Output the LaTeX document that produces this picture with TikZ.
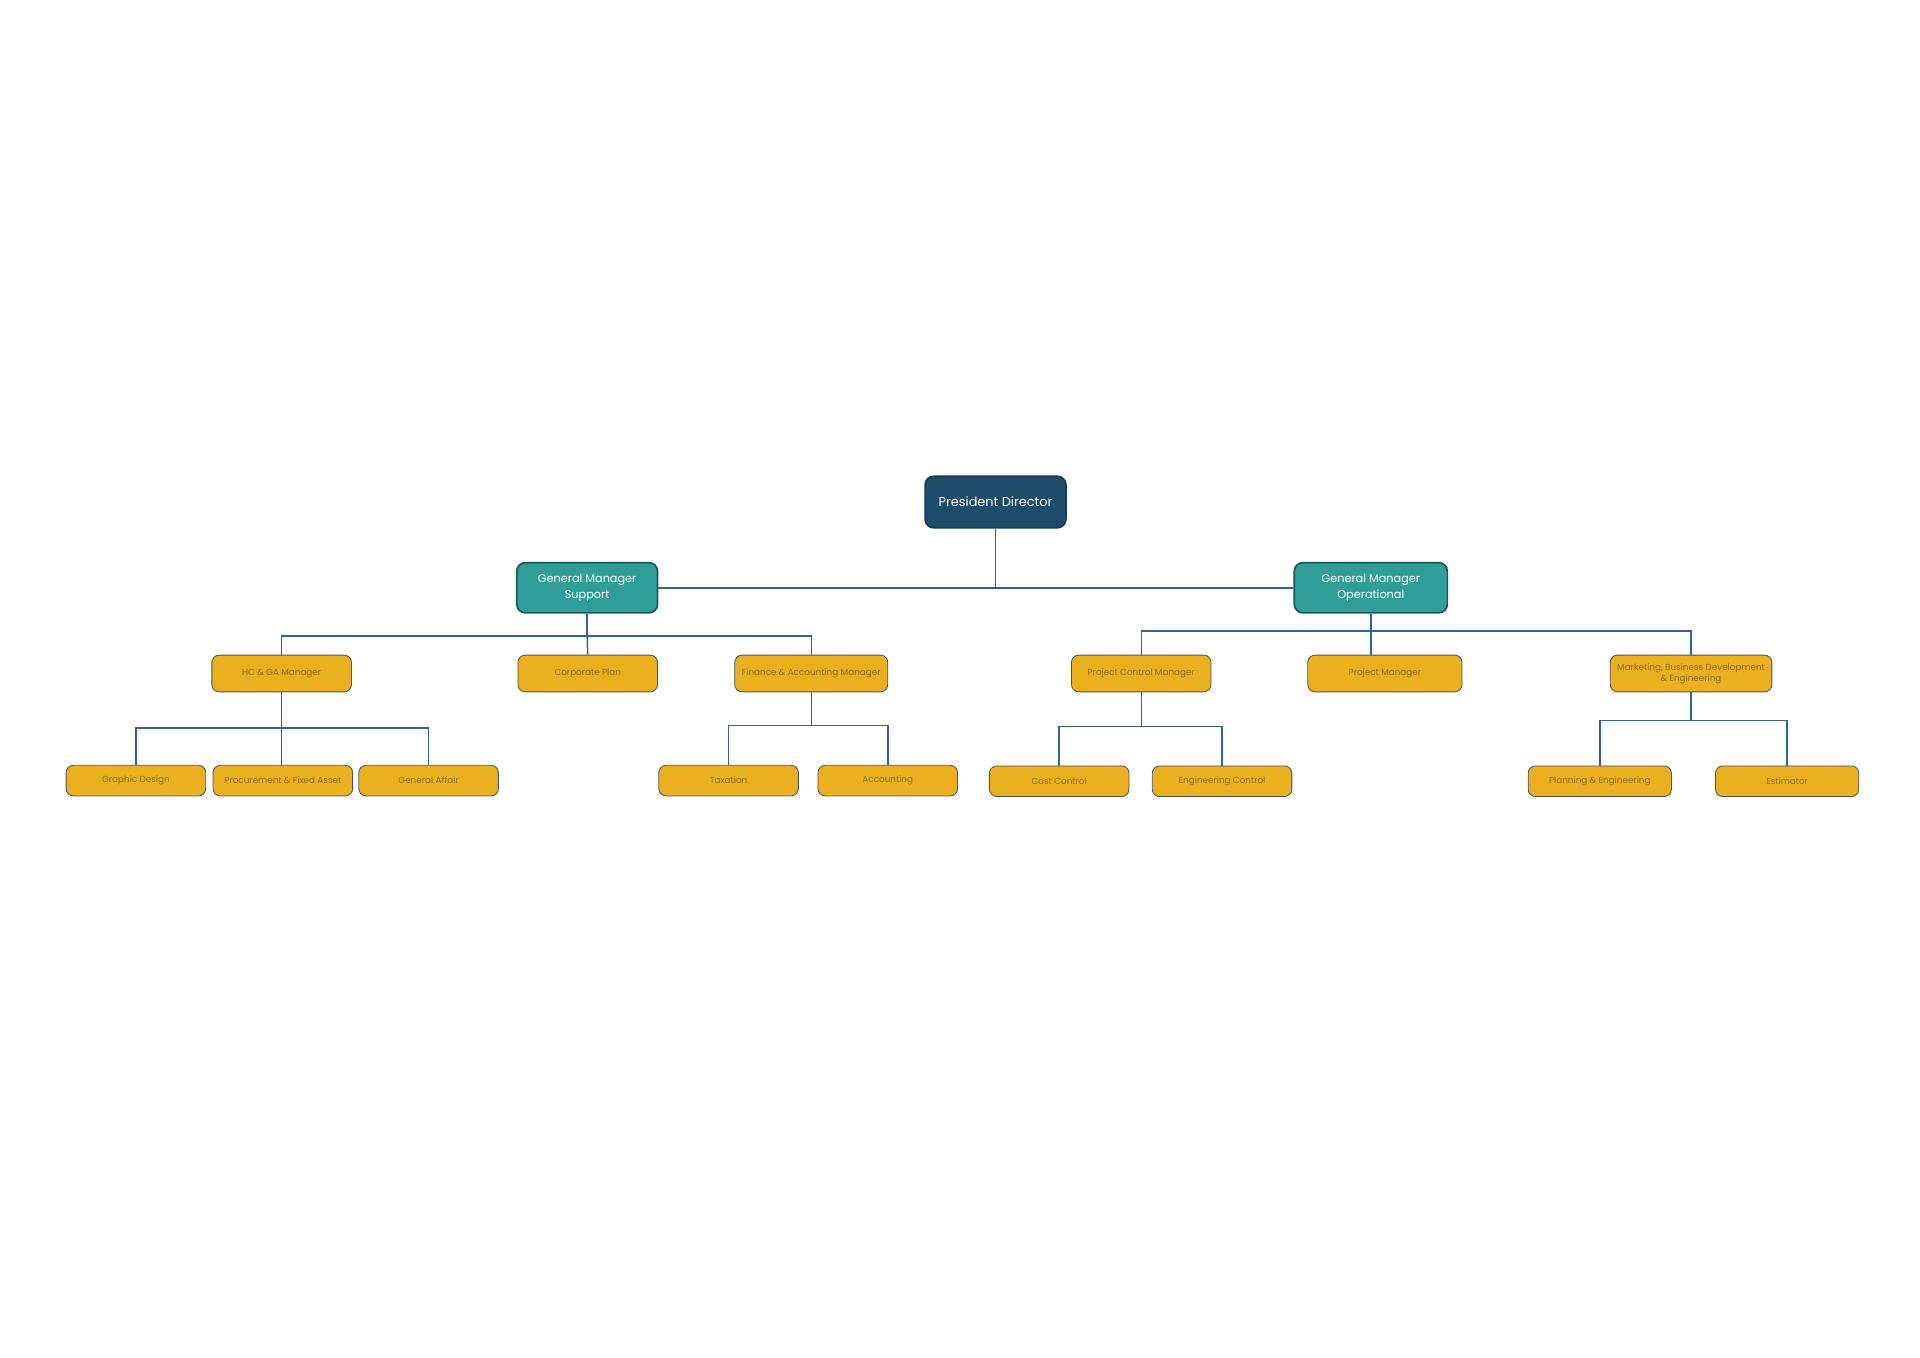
\documentclass[tikz,border=0pt]{standalone}
\usepackage{fontspec}
\setmainfont{Poppins}
\usetikzlibrary{positioning}

\definecolor{pdblue}{HTML}{1E4D6B}
\definecolor{pdedge}{HTML}{163A52}
\definecolor{gmteal}{HTML}{2F9E99}
\definecolor{gmedge}{HTML}{1C5A56}
\definecolor{jobyellow}{HTML}{EBB020}
\definecolor{jobedge}{HTML}{4B5563}
\definecolor{jobtext}{HTML}{8A6B22}
\definecolor{linkblue}{HTML}{2F5DAF}

\begin{document}
\begin{tikzpicture}[x=1pt,y=-1pt,
    top/.style={draw=pdedge, fill=pdblue, line width=1.4pt, rounded corners=7pt,
      text=white, minimum width=115pt, minimum height=42pt, inner sep=0pt,
      font=\fontsize{10.5}{12}\selectfont},
    gm/.style={draw=gmedge, fill=gmteal, line width=1.4pt, rounded corners=7pt,
      text=white, minimum width=115pt, minimum height=41pt, inner sep=0pt,
      align=center, font=\fontsize{9.2}{13}\selectfont},
    job/.style={draw=jobedge, fill=jobyellow, line width=0.7pt, rounded corners=6pt,
      text=jobtext, minimum width=114pt, minimum height=30pt, inner sep=0pt,
      align=center, font=\fontsize{7.2}{9}\selectfont},
    sub/.style={job, minimum height=25pt},
    link/.style={draw=linkblue, line width=1.2pt}]
    \useasboundingbox (0,0) rectangle (1568,1109);

    % top
    \node[top] (pd) at (813,410) {President Director};
    \node[gm] (gms) at (479.5,480) {General Manager\\Support};
    \node[gm, minimum width=125pt] (gmo) at (1119.5,480) {General Manager\\Operational};

    % managers
    \node[job] (hc) at (230,550) {HC \& GA Manager};
    \node[job] (cp) at (480,550) {Corporate Plan};
    \node[job, minimum width=125pt] (fam) at (662.5,550) {Finance \& Accounting Manager};
    \node[job] (pcm) at (932,550) {Project Control Manager};
    \node[job, minimum width=126pt] (pm) at (1131,550) {Project Manager};
    \node[job, minimum width=132pt] (mbd) at (1381,550) {Marketing, Business Development\\\& Engineering};

    % staff
    \node[sub] (gd) at (111,637.5) {Graphic Design};
    \node[sub] (pfa) at (231,637.5) {Procurement \& Fixed Asset};
    \node[sub] (ga) at (350,637.5) {General Affair};
    \node[sub] (tax) at (595,637.5) {Taxation};
    \node[sub] (acc) at (725,637.5) {Accounting};
    \node[sub] (cc) at (865,638) {Cost Control};
    \node[sub] (ec) at (998,638) {Engineering Control};
    \node[sub, minimum width=117pt] (pe) at (1306.5,638) {Planning \& Engineering};
    \node[sub, minimum width=117pt] (est) at (1459.5,638) {Estimator};

    % links
    \draw[link] (pd) |- (gms);
    \draw[link] (pd) |- (gmo);

    \draw[link] (gms.south) -- ++(0,18) coordinate (bs);
    \draw[link] (bs) -| (hc.north);
    \draw[link] (bs) -| (fam.north);
    \draw[link] (bs) -- (cp.north);

    \draw[link] (gmo.south) -- ++(0,14) coordinate (bo);
    \draw[link] (bo) -| (pcm.north);
    \draw[link] (bo) -| (mbd.north);
    \draw[link] (bo) -- (bo |- pm.north);

    \draw[link] (hc.south) -- ++(0,29) coordinate (bh);
    \draw[link] (bh) -| (gd.north);
    \draw[link] (bh) -| (ga.north);
    \draw[link] (bh) -- (bh |- pfa.north);

    \draw[link] (fam.south) -- ++(0,27) coordinate (bf);
    \draw[link] (bf) -| (tax.north);
    \draw[link] (bf) -| (acc.north);

    \draw[link] (pcm.south) -- ++(0,28) coordinate (bp);
    \draw[link] (bp) -| (cc.north);
    \draw[link] (bp) -| (ec.north);

    \draw[link] (mbd.south) -- ++(0,23) coordinate (bm);
    \draw[link] (bm) -| (pe.north);
    \draw[link] (bm) -| (est.north);
\end{tikzpicture}
\end{document}
